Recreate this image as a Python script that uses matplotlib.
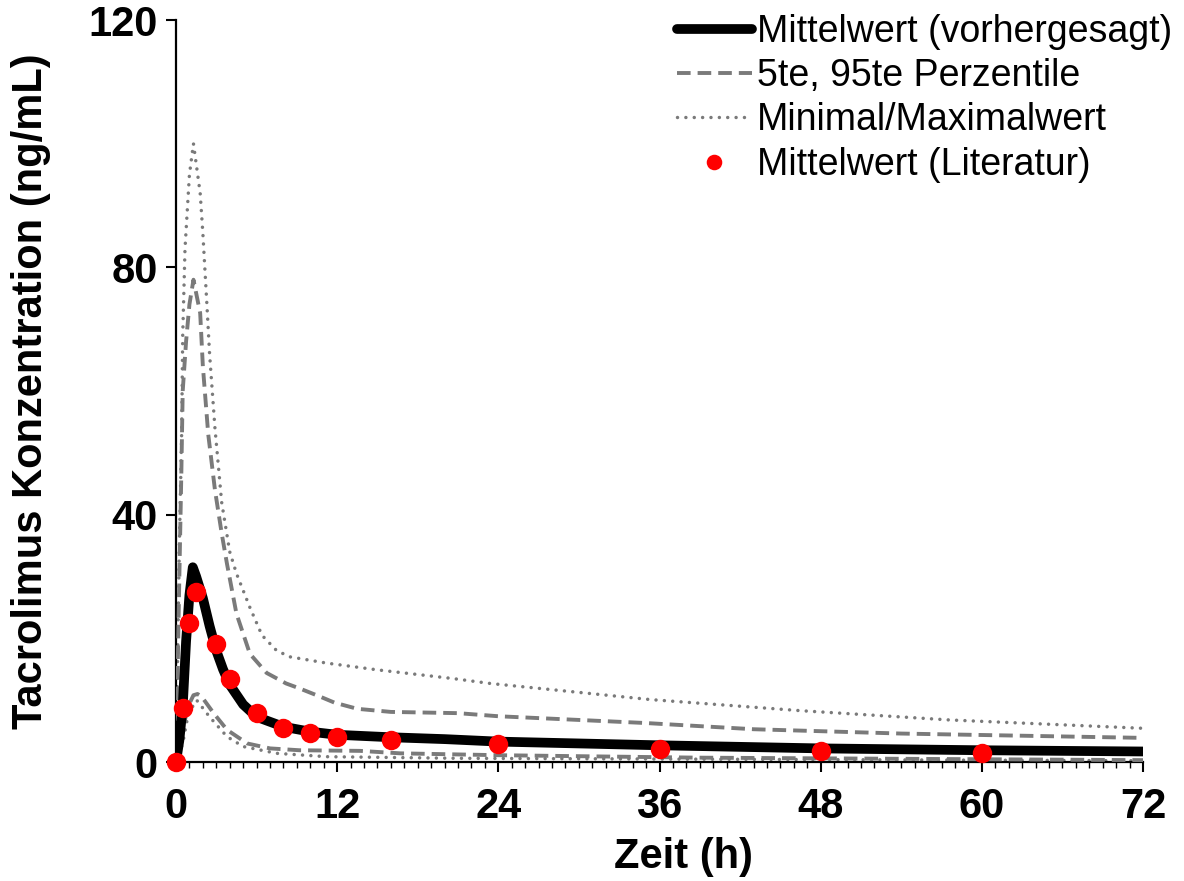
import matplotlib
matplotlib.use("Agg")
import matplotlib.pyplot as plt
from matplotlib.ticker import MultipleLocator

plt.rcParams['font.family'] = ['Liberation Sans', 'DejaVu Sans']

# ---- data ----
t_mean = [0, 0.25, 0.5, 0.75, 1.0, 1.25, 1.5, 2.0, 2.5, 3.0, 3.5, 4.0, 5.0, 6.0, 8.0, 10, 12, 16, 20, 24, 36, 48, 60, 72]
c_mean = [0, 3.5, 9.0, 19.5, 27.0, 31.5, 30.0, 26.5, 22.0, 18.0, 15.0, 12.5, 9.3, 7.3, 5.7, 4.9, 4.4, 4.0, 3.7, 3.3, 2.7, 2.2, 1.9, 1.7]

t_p95 = [0, 0.25, 0.4, 0.5, 0.75, 1.0, 1.3, 1.8, 2.0, 2.4, 2.9, 3.4, 3.8, 4.5, 5.5, 6.75, 8.2, 9.2, 10.7, 11.8, 13.5, 16, 21, 24, 35, 43, 54, 72]
c_p95 = [0, 30, 47, 60, 68, 74, 78, 72.6, 64, 53, 44, 37, 32, 24, 17.5, 14.4, 12.7, 11.9, 10.6, 9.6, 8.6, 8.1, 7.9, 7.4, 6.3, 5.3, 4.6, 3.9]

t_p5 = [0, 0.25, 0.55, 0.9, 1.3, 1.6, 1.9, 2.8, 3.8, 5.3, 7.0, 9.2, 13.7, 16.7, 24, 39, 72]
c_p5 = [0, 2.0, 5.7, 9.0, 10.8, 11.0, 10.6, 7.9, 5.2, 3.0, 2.2, 1.9, 1.8, 1.4, 1.1, 0.7, 0.3]

t_max = [0, 0.25, 0.42, 0.5, 0.67, 1.0, 1.3, 1.8, 2.0, 2.3, 2.5, 2.9, 3.4, 4.0, 4.5, 5.5, 6.4, 7.5, 8.5, 11.2, 15, 20.6, 23.4, 35.3, 46.5, 57.6, 72]
c_max = [0, 35, 53, 69, 83, 95, 100, 92, 85.5, 74, 66, 54, 42, 34, 30.5, 25, 20.5, 18.0, 17.0, 16.0, 14.9, 13.5, 12.7, 10.1, 8.3, 6.8, 5.45]

t_min = [0, 0.5, 0.92, 1.54, 2.5, 3.8, 5.0, 7.5, 11.2, 21, 72]
c_min = [0, 3.0, 7.9, 10.0, 7.3, 4.1, 2.5, 1.4, 0.86, 0.6, 0.2]

t_lit = [0, 0.5, 1.0, 1.5, 3.0, 4.0, 6.0, 8.0, 10, 12, 16, 24, 36, 48, 60]
c_lit = [0, 8.7, 22.5, 27.5, 19.1, 13.4, 7.9, 5.5, 4.7, 4.1, 3.6, 2.9, 2.1, 1.8, 1.5]

labels = ["Mittelwert (vorhergesagt)", "5te, 95te Perzentile",
          "Minimal/Maximalwert", "Mittelwert (Literatur)"]
x_ticks = [0, 12, 24, 36, 48, 60, 72]
y_ticks = [0, 40, 80, 120]

gray = '#7a7a7a'

fig = plt.figure(figsize=(11.84, 8.81), dpi=100)
ax = fig.add_axes([176/1184, 1-762/881, (1143-176)/1184, (762-20)/881])

ln_mean, = ax.plot(t_mean, c_mean, color='black', lw=7, solid_capstyle='round', zorder=4)
ln_p, = ax.plot(t_p95, c_p95, color=gray, lw=2.8, dashes=(3.5, 1.8), zorder=3)
ax.plot(t_p5, c_p5, color=gray, lw=2.8, dashes=(3.5, 1.8), zorder=3)
ln_mm, = ax.plot(t_max, c_max, color=gray, lw=2.5, dashes=(0.01, 2.4),
                 dash_capstyle='round', zorder=2)
ax.plot(t_min, c_min, color=gray, lw=2.5, dashes=(0.01, 2.4),
        dash_capstyle='round', zorder=2)
ln_lit, = ax.plot(t_lit, c_lit, 'o', color='#ff0000', ms=14, mec='none',
                  zorder=5, clip_on=False)

ax.set_xlim(0, 72)
ax.set_ylim(0, 120)
ax.set_xticks(x_ticks)
ax.set_yticks(y_ticks)
ax.xaxis.set_minor_locator(MultipleLocator(1))
ax.tick_params(axis='both', which='major', direction='out', length=7, width=1.5,
               labelsize=30)
ax.tick_params(axis='x', which='major', pad=11)
ax.tick_params(axis='y', which='major', pad=6)
ax.tick_params(axis='x', which='minor', direction='out', length=4.5, width=1.0)
for lab in ax.get_xticklabels() + ax.get_yticklabels():
    lab.set_fontweight('bold')

for s in ['top', 'right']:
    ax.spines[s].set_visible(False)
for s in ['left', 'bottom']:
    ax.spines[s].set_linewidth(1.6)

ax.set_xlabel("Zeit (h)", fontsize=30, fontweight='bold', labelpad=7,
              x=(684-176)/(1143-176))
ax.set_ylabel("Tacrolimus Konzentration (ng/mL)", fontsize=30, fontweight='bold',
              labelpad=27)

leg = fig.legend([ln_mean, ln_p, ln_mm, ln_lit], labels, loc='upper right',
                 bbox_to_anchor=(1172/1184, 1-14/881), frameon=False, fontsize=27,
                 handlelength=2.0, handletextpad=0.14, labelspacing=0.22,
                 borderaxespad=0, borderpad=0, markerscale=0.8)

fig.savefig("out.png", dpi=100)
